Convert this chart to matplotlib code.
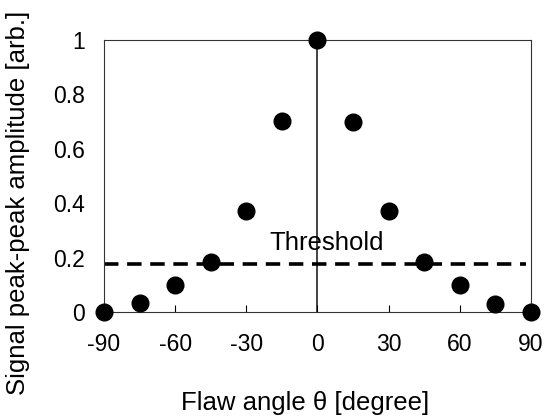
import matplotlib.pyplot as plt

# flaw angle vs normalised signal amplitude
angles = [-90, -75, -60, -45, -30, -15, 0, 15, 30, 45, 60, 75, 90]
amplitude = [0.0, 0.034, 0.10, 0.183, 0.372, 0.702, 1.0, 0.70, 0.372, 0.185, 0.10, 0.03, 0.0]
threshold = 0.175
xticks = [-90, -60, -30, 0, 30, 60, 90]
yticks = [0, 0.2, 0.4, 0.6, 0.8, 1]
yticklabels = ['0', '0.2', '0.4', '0.6', '0.8', '1']

plt.rcParams['font.family'] = ['Liberation Sans', 'DejaVu Sans']
plt.rcParams['axes.unicode_minus'] = False

fig = plt.figure(figsize=(5.46, 4.17), dpi=100)
ax = fig.add_axes([0.1905, 0.2518, 0.782, 0.652])

ax.axvline(0, color='#222222', lw=1.2, zorder=1)
ax.hlines(threshold, -90, 88, color='black', lw=2.6, linestyles=(0, (4, 2.4)), zorder=2)
ax.plot(angles, amplitude, 'o', color='black', markersize=12, clip_on=False, zorder=3)
ax.text(4, 0.254, 'Threshold', fontsize=18.5, ha='center', va='center')

ax.set_xlim(-90, 90)
ax.set_ylim(0, 1)
ax.set_xticks(xticks)
ax.set_yticks(yticks)
ax.set_yticklabels(yticklabels)
ax.tick_params(axis='x', direction='in', length=5, width=0.8, labelsize=16.5, pad=15)
ax.tick_params(axis='y', length=0, labelsize=16.5, pad=14)
for s in ax.spines.values():
    s.set_linewidth(0.8)
    s.set_color('#333333')

ax.set_xlabel('Flaw angle θ [degree]', fontsize=18.5, va='center')
ax.set_ylabel('Signal peak-peak amplitude [arb.]', fontsize=18.5, va='center')
ax.xaxis.set_label_coords(0.471, -0.335)
ax.yaxis.set_label_coords(-0.201, 0.40)

fig.savefig('out.png', dpi=100)
